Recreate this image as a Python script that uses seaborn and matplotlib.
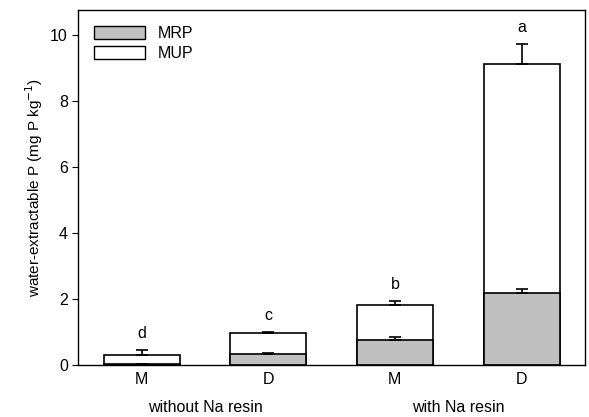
import numpy as np
import pandas as pd
import matplotlib
matplotlib.use("Agg")
import matplotlib.pyplot as plt
import seaborn as sns
from matplotlib.patches import Patch

treatments = ["M", "D", "M", "D"]
groups = ["without Na resin", "with Na resin"]
mrp = [0.04, 0.33, 0.74, 2.19]
mrp_err = [0.0, 0.03, 0.11, 0.11]
total = [0.30, 0.97, 1.82, 9.12]
total_err = [0.15, 0.02, 0.12, 0.60]
letters = ["d", "c", "b", "a"]

sns.set_style("ticks", {"text.color": "black", "axes.labelcolor": "black",
                        "xtick.color": "black", "ytick.color": "black",
                        "axes.edgecolor": "black"})
plt.rcParams['font.family'] = ['Liberation Sans', 'DejaVu Sans']

ids = ["wo_M", "wo_D", "w_M", "w_D"]
df = pd.DataFrame({"id": ids, "MRP": mrp, "total": total})

fig, ax = plt.subplots(figsize=(5.89, 4.17), dpi=100)
sns.barplot(data=df, x="id", y="total", order=ids, color="white",
            edgecolor="black", linewidth=1.2, width=0.6, ax=ax)
sns.barplot(data=df, x="id", y="MRP", order=ids, color="#c0c0c0",
            edgecolor="black", linewidth=1.2, width=0.6, saturation=1, ax=ax)

pos = np.arange(len(ids))
ax.errorbar(pos, total, yerr=[np.zeros(4), total_err], fmt="none",
            ecolor="black", elinewidth=1.2, capsize=4, capthick=1.2)
ax.errorbar(pos, mrp, yerr=[np.zeros(4), mrp_err], fmt="none",
            ecolor="black", elinewidth=1.2, capsize=4, capthick=1.2)

for p, t, e, l in zip(pos, total, total_err, letters):
    ax.text(p, t + e + 0.28, l, ha="center", va="bottom", fontsize=11.5)

ax.set_xlim(-0.5, 3.5)
ax.set_ylim(0, 10.75)
ax.set_yticks([0, 2, 4, 6, 8, 10])
ax.set_xticks(pos)
ax.set_xticklabels(treatments, fontsize=11.5)
ax.tick_params(axis="y", labelsize=11.5, direction="out", length=4)
ax.tick_params(axis="x", length=0, pad=5)
ax.set_xlabel("")
ax.set_ylabel("water-extractable P (mg P kg$^{-1}$)", fontsize=11, labelpad=4)
for s in ax.spines.values():
    s.set_visible(True)
    s.set_linewidth(1.0)

for gx, g in zip([0.5, 2.5], groups):
    ax.text(gx, -0.098, g, transform=ax.get_xaxis_transform(),
            ha="center", va="top", fontsize=11.5)

handles = [Patch(facecolor="#c0c0c0", edgecolor="black", label="MRP"),
           Patch(facecolor="white", edgecolor="black", label="MUP")]
ax.legend(handles=handles, loc="upper left", frameon=False, fontsize=11.5,
          handlelength=3.2, handleheight=0.9, borderaxespad=0.6,
          labelspacing=0.3)

fig.subplots_adjust(left=0.133, right=0.993, top=0.976, bottom=0.125)
fig.savefig("out.png", dpi=100)
